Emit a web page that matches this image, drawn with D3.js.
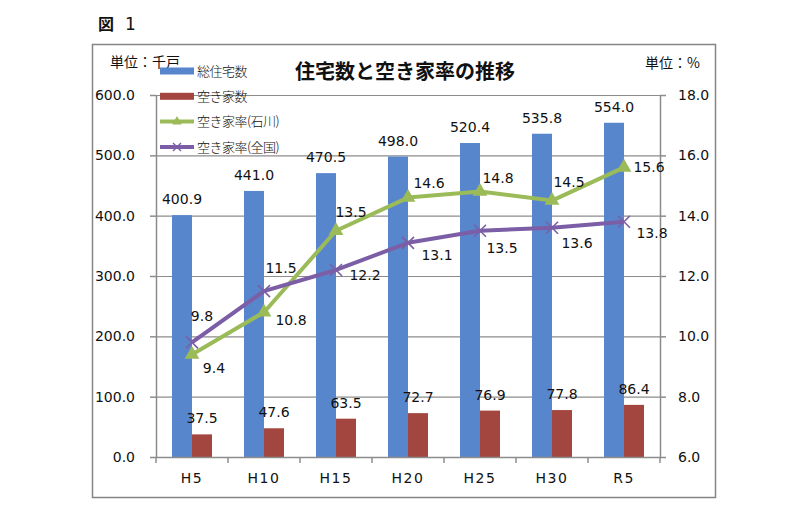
<html>
<head>
<meta charset="utf-8" />
<title>住宅数と空き家率の推移</title>
<script src="https://cdn.jsdelivr.net/npm/d3@7"></script>
<style>
	body { margin: 0; background: #fff; }
	.num { font-family: "DejaVu Sans", Verdana, sans-serif; font-size: 14px; fill: #111; }
	.jp { font-family: "Noto Sans CJK JP", sans-serif; fill: #111; }
</style>
</head>
<body>
<script>

// data
var years = ["H5", "H10", "H15", "H20", "H25", "H30", "R5"];
var totalHouses = [400.9, 441.0, 470.5, 498.0, 520.4, 535.8, 554.0];   // 千戸
var vacantHouses = [37.5, 47.6, 63.5, 72.7, 76.9, 77.8, 86.4];         // 千戸
var rateIshikawa = [9.4, 10.8, 13.5, 14.6, 14.8, 14.5, 15.6];          // %
var rateNational = [9.8, 11.5, 12.2, 13.1, 13.5, 13.6, 13.8];          // %
var leftTicks = [0, 100, 200, 300, 400, 500, 600];
var rightTicks = [6, 8, 10, 12, 14, 16, 18];
var legendNames = ["総住宅数", "空き家数", "空き家率(石川)", "空き家率(全国)"];

// where each rate label sits, relative to its point
var ishikawaLabelOff = [[22, 14], [27, 8], [15, -19], [21, -15], [18, -14], [17, -19], [25, 0]];
var nationalLabelOff = [[10, -26], [17, -23], [29, 5], [29, 12], [22, 17], [25, 15], [28, 11]];

var W = 799, H = 515;
var plot = {left: 156, right: 660, top: 95, bottom: 457};

var colBlue = "#5886cd", colRed = "#a3463f", colGreen = "#9bbb59", colPurple = "#7b5ea6";
var gridCol = "#8c8c8c";

var svg = d3.select("body").append("svg")
	.attr("width", W).attr("height", H);

// outer frame
svg.append("rect")
	.attr("x", 92.5).attr("y", 44.5).attr("width", 623).attr("height", 453)
	.attr("fill", "#fff").attr("stroke", "#858585").attr("stroke-width", 1.5);

svg.append("text").attr("class", "jp").attr("x", 98).attr("y", 30)
	.style("font-size", "16px").attr("font-weight", "bold").text("図");
svg.append("text").attr("class", "num").attr("x", 125).attr("y", 30)
	.style("font-size", "17px").text("1");

var x = d3.scaleBand().domain(years).range([plot.left, plot.right]);
var xs = d3.scaleBand().domain(["total", "vacant"]).range([0, x.bandwidth()])
	.paddingInner(0).paddingOuter(0.8);
var yL = d3.scaleLinear().domain([0, 600]).range([plot.bottom, plot.top]);
var yR = d3.scaleLinear().domain([6, 18]).range([plot.bottom, plot.top]);

// gridlines
svg.append("g").selectAll("line").data(leftTicks.slice(1)).enter().append("line")
	.attr("x1", plot.left).attr("x2", plot.right)
	.attr("y1", d => yL(d) + 0.5).attr("y2", d => yL(d) + 0.5)
	.attr("stroke", gridCol).attr("stroke-width", 1.2);

// bars
var barG = svg.append("g");
barG.selectAll(".tot").data(totalHouses).enter().append("rect")
	.attr("x", (d, i) => x(years[i]) + xs("total"))
	.attr("y", d => yL(d))
	.attr("width", xs.bandwidth())
	.attr("height", d => yL(0) - yL(d))
	.attr("fill", colBlue);
barG.selectAll(".vac").data(vacantHouses).enter().append("rect")
	.attr("x", (d, i) => x(years[i]) + xs("vacant"))
	.attr("y", d => yL(d))
	.attr("width", xs.bandwidth())
	.attr("height", d => yL(0) - yL(d))
	.attr("fill", colRed);

// axes
var axL = svg.append("g").attr("transform", `translate(${plot.left},0)`)
	.call(d3.axisLeft(yL).tickValues(leftTicks).tickFormat(d => d.toFixed(1))
		.tickSize(6).tickSizeOuter(0).tickPadding(15));
var axR = svg.append("g").attr("transform", `translate(${plot.right},0)`)
	.call(d3.axisRight(yR).tickValues(rightTicks).tickFormat(d => d.toFixed(1))
		.tickSize(6).tickSizeOuter(0).tickPadding(12));
var axB = svg.append("g").attr("transform", `translate(0,${plot.bottom})`)
	.call(d3.axisBottom(x).tickSize(0).tickPadding(16));
[axL, axR, axB].forEach(a => {
	a.attr("font-family", null).attr("font-size", null);
	a.selectAll("path, line").attr("stroke", gridCol).attr("stroke-width", 1.5);
	a.selectAll("text").attr("class", "num");
});
axB.selectAll("text").attr("letter-spacing", "1.5px");
// category boundary ticks on the x axis
var bounds = years.map(c => x(c)).concat([x.range()[1]]);
axB.selectAll(".bt").data(bounds).enter().append("line")
	.attr("x1", d => d).attr("x2", d => d).attr("y1", 0).attr("y2", 6)
	.attr("stroke", gridCol).attr("stroke-width", 1.5);

// bar labels
svg.append("g").selectAll("text").data(totalHouses).enter().append("text")
	.attr("class", "num").attr("text-anchor", "middle")
	.attr("x", (d, i) => x(years[i]) + xs("total") + xs.bandwidth() / 2)
	.attr("y", d => yL(d) - 11)
	.text(d => d.toFixed(1));
svg.append("g").selectAll("text").data(vacantHouses).enter().append("text")
	.attr("class", "num").attr("text-anchor", "middle")
	.attr("x", (d, i) => x(years[i]) + xs("vacant") + xs.bandwidth() / 2)
	.attr("y", d => yL(d) - 11)
	.text(d => d.toFixed(1));

// rate lines
var cx = (d, i) => x(years[i]) + x.bandwidth() / 2;
var line = d3.line().x(cx).y(d => yR(d));

svg.append("path").datum(rateIshikawa).attr("d", line)
	.attr("fill", "none").attr("stroke", colGreen).attr("stroke-width", 4).attr("stroke-linejoin", "round");
svg.append("path").datum(rateNational).attr("d", line)
	.attr("fill", "none").attr("stroke", colPurple).attr("stroke-width", 4).attr("stroke-linejoin", "round");

var tri = d3.symbol().type(d3.symbolTriangle).size(95);
svg.append("g").selectAll("path").data(rateIshikawa).enter().append("path")
	.attr("d", tri)
	.attr("transform", (d, i) => `translate(${cx(d, i)},${yR(d)})`)
	.attr("fill", colGreen);

var crossPath = "M-6,-6L6,6M-6,6L6,-6";
svg.append("g").selectAll("path").data(rateNational).enter().append("path")
	.attr("d", crossPath)
	.attr("transform", (d, i) => `translate(${cx(d, i)},${yR(d)})`)
	.attr("stroke", colPurple).attr("stroke-width", 1.6).attr("fill", "none");

svg.append("g").selectAll("text").data(rateIshikawa).enter().append("text")
	.attr("class", "num").attr("text-anchor", "middle").attr("dy", "0.36em")
	.attr("x", (d, i) => cx(d, i) + ishikawaLabelOff[i][0])
	.attr("y", (d, i) => yR(d) + ishikawaLabelOff[i][1])
	.text(d => d.toFixed(1));
svg.append("g").selectAll("text").data(rateNational).enter().append("text")
	.attr("class", "num").attr("text-anchor", "middle").attr("dy", "0.36em")
	.attr("x", (d, i) => cx(d, i) + nationalLabelOff[i][0])
	.attr("y", (d, i) => yR(d) + nationalLabelOff[i][1])
	.text(d => d.toFixed(1));

// title and units
svg.append("text").attr("class", "jp").attr("x", 405).attr("y", 79)
	.attr("text-anchor", "middle").attr("font-size", "20px").attr("font-weight", "bold")
	.text("住宅数と空き家率の推移");
svg.append("text").attr("class", "jp").attr("x", 110).attr("y", 67)
	.attr("font-size", "14px").text("単位：千戸");
svg.append("text").attr("class", "jp").attr("x", 645).attr("y", 68)
	.attr("font-size", "14px").text("単位：%");

// legend
var leg = svg.append("g").attr("transform", "translate(160,71)");
legendNames.forEach(function(name, i) {
	var g = leg.append("g").attr("transform", `translate(0,${i * 25.3})`);
	if (i < 2) {
		g.append("rect").attr("x", 0).attr("y", -3.5).attr("width", 34).attr("height", 7)
			.attr("fill", i == 0 ? colBlue : colRed);
	} else {
		var c = i == 2 ? colGreen : colPurple;
		g.append("line").attr("x1", 0).attr("x2", 34).attr("y1", 0).attr("y2", 0)
			.attr("stroke", c).attr("stroke-width", 4);
		if (i == 2) g.append("path").attr("d", d3.symbol().type(d3.symbolTriangle).size(40))
			.attr("transform", "translate(17,0)").attr("fill", c);
		else g.append("path").attr("d", "M-4,-4L4,4M-4,4L4,-4")
			.attr("transform", "translate(17,0)").attr("stroke", c).attr("stroke-width", 1.4);
	}
	g.append("text").attr("class", "jp").attr("x", 37).attr("dy", "0.36em")
		.attr("font-size", "13px").attr("font-weight", 300).attr("letter-spacing", "-0.5px").text(name);
});

</script>
</body>
</html>
